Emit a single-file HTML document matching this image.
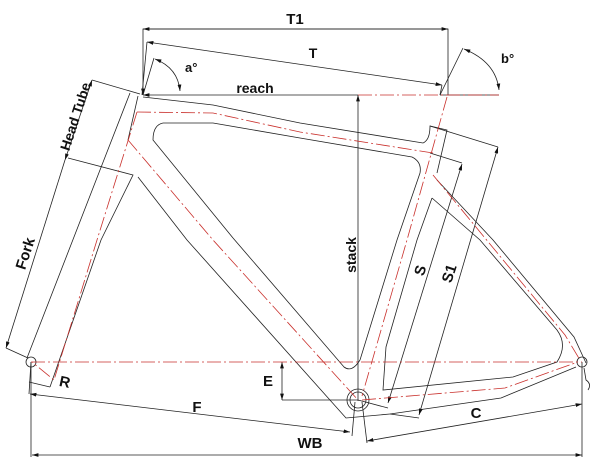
<!DOCTYPE html>
<html><head><meta charset="utf-8"><style>
html,body{margin:0;padding:0;background:#fff;}
svg{display:block;}
text{font-family:"Liberation Sans",sans-serif;font-weight:bold;fill:#111;}
</style></head><body>
<svg width="600" height="471" viewBox="0 0 600 471" xmlns="http://www.w3.org/2000/svg">
<defs>
<marker id="ar" viewBox="0 0 10 6" refX="10" refY="3" markerWidth="8" markerHeight="5" orient="auto-start-reverse"><path d="M0,0 L10,3 L0,6 z" fill="#111"/></marker>
</defs>
<g fill="none" stroke="#222" stroke-width="0.8">
<!-- frame outlines -->
<!-- head tube / fork -->
<path d="M130,93 L100,170 L27,358"/>
<path d="M138,96 L128,140"/>
<path d="M68,158 L133,175 L101,240 L50,387"/>
<!-- top tube -->
<path d="M143,97 L213,105 L300,123 L423,143 Q430,140 430,126 L447,130 L437,173"/>
<path d="M163,123 Q153,125 153,140 L233,238"/>
<path d="M163,123 L213,123 L300,138 L412,157 Q422,162 420,173 L397,240 L360,360"/>
<!-- down tube -->
<path d="M138,177 L187,240 L346,418 L390,414"/>
<path d="M233,238 L344,367 Q352,373 360,360"/>
<!-- seat stay / rear -->
<path d="M437,180 L493,240 L574,337 L586,363"/>
<path d="M432,198 L480,240 L557,330 Q568,345 557,362 L513,377 L383,390 L386,347 L417,240 L432,198"/>
<path d="M390,414 L501,398 L576,367"/>
<path d="M584,368 L586,380 Q592,384 588,390"/>
<!-- dims -->
<path d="M143,95 L143,29 L448,29 L448,95" marker-start="url(#ar)"/>
<path d="M143,29 L448,29" marker-start="url(#ar)" marker-end="url(#ar)"/>
<path d="M147,42 L442,85" marker-start="url(#ar)" marker-end="url(#ar)"/>
<path d="M142,95 L147,42"/>
<path d="M442,85 L440,95"/>
<path d="M143,95 L358,95" marker-start="url(#ar)"/>
<path d="M358,401 L358,95" marker-end="url(#ar)"/>
<path d="M143,95 L154,58"/>
<path d="M155,59 Q178,68 180,91" marker-start="url(#ar)" marker-end="url(#ar)"/>
<path d="M440,95 L499,95"/>
<path d="M440,95 L463,48"/>
<path d="M464,49 Q496,62 499,90" marker-start="url(#ar)" marker-end="url(#ar)"/>
<path d="M92,80 L140,94"/>
<path d="M92,80 L65,160" marker-start="url(#ar)" marker-end="url(#ar)"/>
<path d="M65,160 L6,348" marker-end="url(#ar)"/>
<path d="M6,348 L28,358"/>
<path d="M29,382 L50,387"/>
<path d="M31,362 L29,394"/>
<path d="M30,394 L350,432" marker-start="url(#ar)" marker-end="url(#ar)"/>
<path d="M355,402 L352,436"/>
<path d="M282,362 L282,400" marker-start="url(#ar)" marker-end="url(#ar)"/>
<path d="M282,400 L358,400"/>
<path d="M362,402 L367,443"/>
<path d="M367,441 L582,404" marker-start="url(#ar)" marker-end="url(#ar)"/>
<path d="M582,362 L582,457"/>
<path d="M31,362 L31,457"/>
<path d="M32,455 L582,455" marker-start="url(#ar)" marker-end="url(#ar)"/>
<path d="M430,126 L498,147"/>
<path d="M498,147 L419,415" marker-start="url(#ar)" marker-end="url(#ar)"/>
<path d="M430,153 L462,163"/>
<path d="M462,164 L388,403" marker-start="url(#ar)" marker-end="url(#ar)"/>
<path d="M358,400 L388,408"/>
<path d="M390,414 L419,418"/>
<circle cx="358" cy="400" r="11"/>
<circle cx="358" cy="400" r="8"/>
<circle cx="31" cy="362" r="5"/>
<circle cx="582" cy="362" r="5"/>
</g>
<g fill="none" stroke="#c9302c" stroke-width="0.8" stroke-dasharray="14,3,2,3">
<path d="M31,362 L582,362"/>
<path d="M358,95 L499,95"/>
<path d="M137,112 L213,113 L300,132 L433,153"/>
<path d="M447,97 L407,240 L362,396"/>
<path d="M137,112 L97,240 L54,380 L32,362"/>
<path d="M128,140 L213,240 L358,400"/>
<path d="M433,175 L565,335 L580,360"/>
<path d="M362,400 L505,388 L575,363"/>
</g>
<text x="295" y="24" font-size="15" text-anchor="middle">T1</text>
<text x="313" y="58" font-size="14" text-anchor="middle">T</text>
<text x="255" y="93" font-size="14" text-anchor="middle">reach</text>
<text x="185" y="72" font-size="13">a°</text>
<text x="501" y="63" font-size="13">b°</text>
<text font-size="14" text-anchor="middle" transform="translate(80,118) rotate(-72)">Head Tube</text>
<text font-size="15" text-anchor="middle" transform="translate(30,255) rotate(-72)">Fork</text>
<text font-size="14" text-anchor="middle" transform="translate(356,255) rotate(-90)">stack</text>
<text font-size="15" text-anchor="middle" transform="translate(425,272) rotate(-72)">S</text>
<text font-size="15" text-anchor="middle" transform="translate(454,275) rotate(-72)">S1</text>
<text x="268" y="386" font-size="15" text-anchor="middle">E</text>
<text x="65" y="387" font-size="15" text-anchor="middle" transform="rotate(12 65 381)">R</text>
<text x="197" y="412" font-size="15" text-anchor="middle">F</text>
<text x="476" y="418" font-size="15" text-anchor="middle">C</text>
<text x="310" y="448" font-size="15" text-anchor="middle">WB</text>
</svg>
</body></html>
